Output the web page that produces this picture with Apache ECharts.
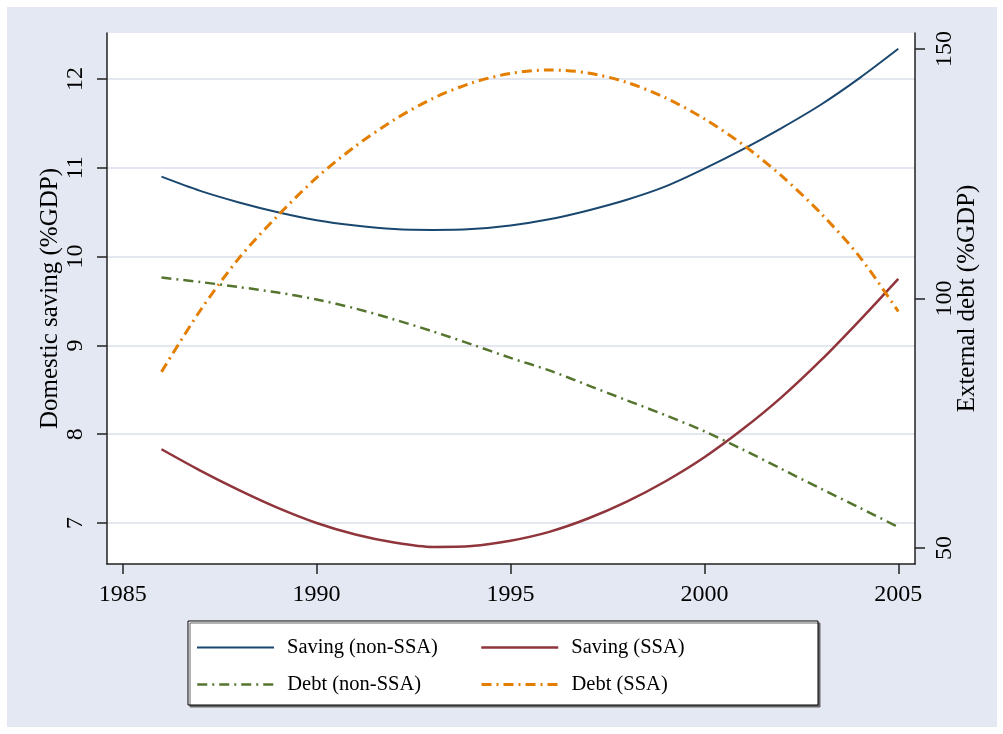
<!DOCTYPE html>
<html>
<head>
<meta charset="utf-8">
<script src="https://cdn.jsdelivr.net/npm/echarts@6/dist/echarts.min.js"></script>
<style>
  html, body { margin: 0; padding: 0; background: #fff; }
  #chart { width: 1003px; height: 734px; }
</style>
</head>
<body>
<div id="chart"></div>
<script>
  // years on the x axis
  var years = [1986, 1987, 1988, 1989, 1990, 1991, 1992, 1993, 1994, 1995,
               1996, 1997, 1998, 1999, 2000, 2001, 2002, 2003, 2004, 2005];
  // domestic saving, % of GDP (left axis)
  var savingNonSSA = [10.90, 10.74, 10.61, 10.50, 10.41, 10.35, 10.31, 10.30, 10.31, 10.35,
                      10.42, 10.52, 10.64, 10.79, 10.99, 11.21, 11.45, 11.71, 12.01, 12.34];
  var savingSSA = [7.83, 7.59, 7.37, 7.17, 7.00, 6.87, 6.78, 6.73, 6.74, 6.80,
                   6.90, 7.05, 7.24, 7.47, 7.74, 8.06, 8.42, 8.83, 9.28, 9.75];
  // external debt, % of GDP (right axis)
  var debtNonSSA = [104.2, 103.3, 102.3, 101.2, 99.8, 98.0, 95.8, 93.4, 90.8, 88.1,
                    85.6, 82.6, 79.6, 76.6, 73.4, 69.7, 65.8, 61.9, 58.1, 54.2];
  var debtSSA = [85.3, 97.6, 108.1, 116.6, 124.2, 130.5, 135.8, 140.1, 143.2, 145.1,
                 145.8, 145.2, 143.3, 140.2, 136.0, 130.8, 124.5, 117.1, 108.4, 97.4];
  // tick labels
  var xTicks = [1985, 1990, 1995, 2000, 2005];
  var leftTicks = [7, 8, 9, 10, 11, 12];
  var rightTicks = [50, 100, 150];

  function pairs(vals) {
    return years.map(function (y, i) { return [y, vals[i]]; });
  }

  var font = '"Liberation Serif", "Times New Roman", serif';
  var axisColor = '#222';
  var dashDot = [10, 5, 2, 5];

  var chart = echarts.init(document.getElementById('chart'));

  function legendAt(name, left, top, lineWidth) {
    return {
      data: [name],
      left: left,
      top: top,
      padding: 0,
      z: 20,
      itemWidth: 77,
      itemHeight: 20,
      selectedMode: false,
      itemStyle: { opacity: 0 },
      lineStyle: { width: lineWidth },
      textStyle: {
        fontFamily: font,
        fontSize: 20.5,
        color: '#000',
        padding: [0, 0, 0, 8]
      }
    };
  }

  var option = {
    backgroundColor: '#fff',
    animation: false,
    textStyle: { fontFamily: font },
    graphic: [
      {
        type: 'rect',
        z: -100,
        silent: true,
        shape: { x: 7, y: 7, width: 990, height: 720 },
        style: { fill: '#e4e8f2' }
      },
      {
        type: 'rect',
        z: 1,
        silent: true,
        shape: { x: 188, y: 621, width: 630, height: 84 },
        style: {
          fill: '#fff', stroke: '#000', lineWidth: 1,
          shadowColor: '#666', shadowOffsetX: 2, shadowOffsetY: 2, shadowBlur: 0
        }
      }
    ],
    grid: {
      left: 107,
      top: 33,
      right: 88,
      bottom: 170,
      show: true,
      backgroundColor: '#fff',
      borderWidth: 0
    },
    legend: [
      legendAt('Saving (non-SSA)', 196, 637, 2),
      legendAt('Saving (SSA)', 480, 637, 2.5),
      legendAt('Debt (non-SSA)', 196, 674, 2.5),
      legendAt('Debt (SSA)', 480, 674, 3)
    ],
    xAxis: {
      type: 'value',
      min: 1984.595,
      max: 2005.431,
      axisLine: { show: true, onZero: false, lineStyle: { color: axisColor, width: 1.5 } },
      axisTick: { show: true, length: 10, customValues: xTicks, lineStyle: { color: axisColor, width: 1.5 } },
      axisLabel: {
        customValues: xTicks, margin: 19, fontSize: 24, fontFamily: font, color: '#000',
        formatter: function (v) { return String(v); }
      },
      splitLine: { show: false }
    },
    yAxis: [
      {
        type: 'value',
        position: 'left',
        min: 6.538,
        max: 12.518,
        name: 'Domestic saving (%GDP)',
        nameLocation: 'middle',
        nameGap: 44,
        nameRotate: 90,
        nameMoveOverlap: false,
        nameTextStyle: { fontSize: 25, fontFamily: font, color: '#000' },
        axisLine: { show: true, lineStyle: { color: axisColor, width: 1.5 } },
        axisTick: { show: true, length: 10, customValues: leftTicks, lineStyle: { color: axisColor, width: 1.5 } },
        axisLabel: { customValues: leftTicks, rotate: 90, margin: 19, fontSize: 24, fontFamily: font, color: '#000' },
        splitLine: { show: true, lineStyle: { color: '#e3e7f0', width: 2 } }
      },
      {
        type: 'value',
        position: 'right',
        min: 46.8,
        max: 153.2,
        name: 'External debt (%GDP)',
        nameLocation: 'middle',
        nameGap: 40,
        nameRotate: 90,
        nameMoveOverlap: false,
        nameTextStyle: { fontSize: 25, fontFamily: font, color: '#000' },
        axisLine: { show: true, lineStyle: { color: axisColor, width: 1.5 } },
        axisTick: { show: true, length: 10, customValues: rightTicks, lineStyle: { color: axisColor, width: 1.5 } },
        axisLabel: { customValues: rightTicks, rotate: 90, margin: 18, fontSize: 24, fontFamily: font, color: '#000' },
        splitLine: { show: false }
      }
    ],
    series: [
      {
        name: 'Saving (non-SSA)',
        type: 'line',
        yAxisIndex: 0,
        data: pairs(savingNonSSA),
        smooth: 0.3,
        symbol: 'none',
        lineStyle: { color: '#1a476f', width: 2 },
        itemStyle: { color: '#1a476f' }
      },
      {
        name: 'Saving (SSA)',
        type: 'line',
        yAxisIndex: 0,
        data: pairs(savingSSA),
        smooth: 0.3,
        symbol: 'none',
        lineStyle: { color: '#90353b', width: 2.5 },
        itemStyle: { color: '#90353b' }
      },
      {
        name: 'Debt (non-SSA)',
        type: 'line',
        yAxisIndex: 1,
        data: pairs(debtNonSSA),
        smooth: 0.3,
        symbol: 'none',
        lineStyle: { color: '#55752f', width: 2.5, type: dashDot },
        itemStyle: { color: '#55752f' }
      },
      {
        name: 'Debt (SSA)',
        type: 'line',
        yAxisIndex: 1,
        data: pairs(debtSSA),
        smooth: 0.3,
        symbol: 'none',
        lineStyle: { color: '#e37e00', width: 3, type: dashDot },
        itemStyle: { color: '#e37e00' }
      }
    ]
  };

  chart.setOption(option);
</script>
</body>
</html>
